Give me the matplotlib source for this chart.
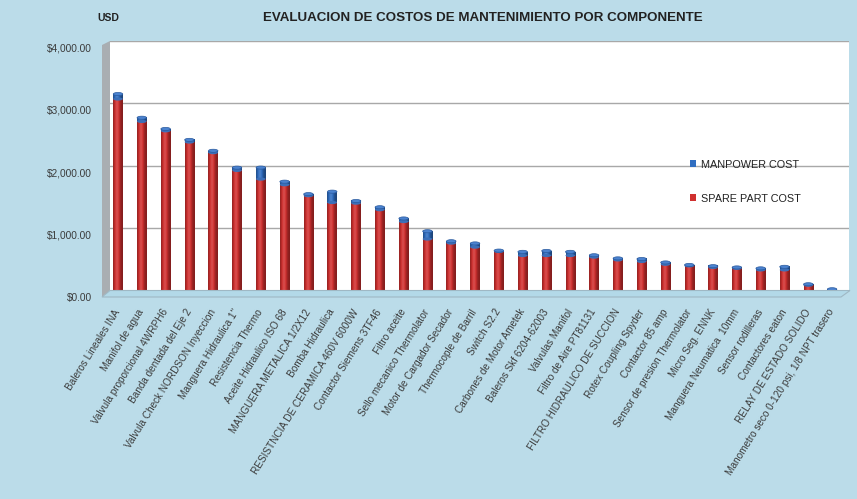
import numpy as np
import matplotlib
matplotlib.use("Agg")
import matplotlib.pyplot as plt
from matplotlib import font_manager
from matplotlib.patches import Ellipse, Polygon, Patch
from matplotlib.transforms import ScaledTranslation

names = {f.name for f in font_manager.fontManager.ttflist}
NARROW = 'Liberation Sans Narrow' in names
FONT = 'Liberation Sans Narrow' if NARROW else 'Liberation Sans'
plt.rcParams['font.family'] = [FONT, 'DejaVu Sans']

categories = [
    "Baleros Lineales INA", "Manifol de agua", "Valvula proporcional 4WRPH6",
    "Banda dentada del Eje 2", "Valvula Check NORDSON Inyeccion",
    "Manguera Hidraulica 1\"", "Resistencia Thermo", "Aceite Hidraulico ISO 68",
    "MANGUERA METALICA 1/2X12", "Bomba Hidraulica",
    "RESISTNCIA DE CERAMICA 460V 6000W", "Contactor Siemens 3TF46", "Filtro aceite",
    "Sello mecanico Thermolator", "Motor de Cargador Secador", "Thermocople de Barril",
    "Switch S2.2", "Carbones de Motor Ametek", "Baleros Skf 6204-62003",
    "Valvulas Manifol", "Filtro de Aire PT81131", "FILTRO HIDRAULICO DE SUCCION",
    "Rotex Coupling Spyder", "Contactor 85 amp", "Sensor de presion Thermolator",
    "Micro Seg. ENNK", "Manguera Neumatica  10mm", "Sensor rodilleras",
    "Contactores eaton", "RELAY DE ESTADO SOLIDO",
    "Manometro seco 0-120 psi, 1/8 NPT trasero",
]
spare_part_cost = [3070, 2710, 2560, 2380, 2210, 1925, 1786, 1695, 1520, 1410,
                   1400, 1295, 1105, 825, 760, 695, 625, 560, 560, 560,
                   535, 490, 465, 420, 395, 370, 355, 330, 330, 85, 12]
manpower_cost = [80, 60, 30, 35, 30, 45, 185, 50, 25, 175,
                 35, 40, 50, 125, 30, 60, 15, 60, 75, 60,
                 30, 25, 40, 30, 15, 20, 15, 25, 50, 15, 8]
yticks = [0, 1000, 2000, 3000, 4000]
ytick_labels = ["$0.00", "$1,000.00", "$2,000.00", "$3,000.00", "$4,000.00"]
title = "EVALUACION DE COSTOS DE MANTENIMIENTO POR COMPONENTE"
legend_labels = ["MANPOWER COST", "SPARE PART COST"]

W, H = 857, 499
BG = '#BBDCE9'
RED = '#D0302F'
BLUE = '#2F6DC0'
TXT = '#3B3B3B'

fig = plt.figure(figsize=(W / 100, H / 100), dpi=100, facecolor=BG)

def fx(px):
    return px / W

def fy(py):
    return (H - py) / H

# 3D-ish left wall and floor
wall = Polygon([(fx(102), fy(45)), (fx(110), fy(41)), (fx(110), fy(290.5)), (fx(102), fy(297))],
               closed=True, transform=fig.transFigure, facecolor='#A9AEB2', edgecolor='none', zorder=0)
floor = Polygon([(fx(102), fy(297)), (fx(110), fy(290.5)), (fx(850), fy(290.5)), (fx(841), fy(297))],
                closed=True, transform=fig.transFigure, facecolor='#B3D9E8', edgecolor='#9FB8C4',
                linewidth=0.8, zorder=0)
fig.patches.extend([wall, floor])

ax = fig.add_axes([fx(110), fy(290.5), fx(849) - fx(110), fy(41) - fy(290.5)])
ax.set_facecolor('white')
for s in ax.spines.values():
    s.set_visible(False)
ax.set_ylim(0, 4000)
n = len(categories)
x = np.arange(n)
ax.set_xlim(-0.336, (n - 1) + 0.71)

for v in yticks[1:]:
    ax.axhline(v, color='#A8A8A8', lw=1.0, zorder=1)

bw = 0.40
red = np.array(spare_part_cost, float)
blue = np.array(manpower_cost, float)
b1 = ax.bar(x, red, width=bw, color=RED, zorder=3, linewidth=0)
b2 = ax.bar(x, blue, bottom=red, width=bw, color=BLUE, zorder=3, linewidth=0)

# cylinder shading
t = np.linspace(0, 1, 64)
shade = 0.62 + 0.55 * np.exp(-((t - 0.40) / 0.30) ** 2)

def shaded(rgb):
    rgb = np.array(matplotlib.colors.to_rgb(rgb))
    out = np.zeros((1, len(t), 3))
    for i, s in enumerate(shade):
        if s <= 1:
            out[0, i] = rgb * s
        else:
            out[0, i] = rgb + (1 - rgb) * (s - 1) * 0.8
    return np.clip(out, 0, 1)

img_red = shaded(RED)
img_blue = shaded(BLUE)
eh = 50  # ellipse height in data units
for bars, img in ((b1, img_red), (b2, img_blue)):
    for p in bars:
        x0, y0, w, h = p.get_x(), p.get_y(), p.get_width(), p.get_height()
        if h <= 0:
            continue
        ax.imshow(img, extent=(x0, x0 + w, y0, y0 + h), aspect='auto', zorder=3.5,
                  interpolation='bilinear')
# caps
for p1, p2 in zip(b1, b2):
    xc = p1.get_x() + p1.get_width() / 2
    w = p1.get_width()
    ax.add_patch(Ellipse((xc, 0), w, eh, facecolor='#9A1E20', edgecolor='none', zorder=3.2))
    ax.add_patch(Ellipse((xc, p1.get_height()), w, eh, facecolor='#3C6FB8', edgecolor='none', zorder=3.6))
    top = p2.get_y() + p2.get_height()
    ax.add_patch(Ellipse((xc, top), w, eh, facecolor='#4B82CF', edgecolor='#2A5A9E', lw=0.5, zorder=3.7))
ax.set_xlim(-0.336, (n - 1) + 0.71)
ax.set_ylim(0, 4000)

ax.set_yticks(yticks)
ax.set_yticklabels(ytick_labels)
ax.tick_params(axis='y', length=0, pad=13, labelsize=8.7 if NARROW else 7.3, labelcolor=TXT)
for lab in ax.get_yticklabels():
    lab.set_transform(lab.get_transform() + ScaledTranslation(0, -0.065, fig.dpi_scale_trans))

ax.set_xticks(x)
ax.set_xticklabels(categories, rotation=58, ha='right', va='center', rotation_mode='anchor')
ax.tick_params(axis='x', length=0, pad=14, labelsize=8.5 if NARROW else 7.2, labelcolor=TXT)

fig.text(fx(483), fy(18), title, ha='center', va='center', fontsize=11.4 if NARROW else 9.6,
         fontweight='bold', color='#222222')
fig.text(fx(108), fy(18), "USD", ha='center', va='center', fontsize=7.5, fontweight='bold', color='#222222')

handles = [Patch(facecolor=BLUE), Patch(facecolor=RED)]
ax.legend(handles, legend_labels, loc='upper left', bbox_to_anchor=(fx(680), fy(150)),
          bbox_transform=fig.transFigure, frameon=False, handlelength=0.6, handleheight=0.6,
          handletextpad=0.4, labelspacing=2.2, fontsize=8.7 if NARROW else 7.8, labelcolor='#222222')

fig.savefig('out.png', dpi=100, facecolor=BG)
